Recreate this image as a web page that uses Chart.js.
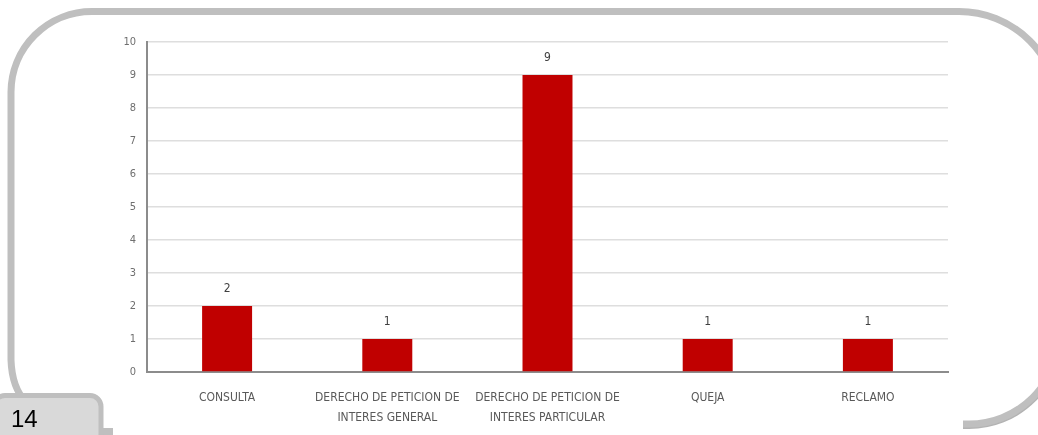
<!DOCTYPE html>
<html>
<head>
<meta charset="utf-8">
<script src="https://cdn.jsdelivr.net/npm/chart.js@4.4.1/dist/chart.umd.min.js"></script>
<style>
  html, body { margin: 0; padding: 0; background: #ffffff; }
  #wrap { position: relative; width: 1038px; height: 435px; overflow: hidden; background: #fff; }
  #c { position: absolute; left: 0; top: 0; }
  #frame { position: absolute; left: 0; top: 0; pointer-events: none; }
  #pg { position: absolute; left: 11px; top: 404px; font-family: "Liberation Sans", Arial, sans-serif; font-size: 24px; color: #000; line-height: 30px; }
</style>
</head>
<body>
<div id="wrap">
  <canvas id="c" width="1038" height="435"></canvas>
  <svg id="frame" width="1038" height="435" viewBox="0 0 1038 435">
    <path d="M 1061 334 A 92 92 0 0 1 969 427 L 963 427" fill="none" stroke="#a0a0a0" stroke-width="4" opacity="0.8"/>
    <path d="M 26 402 Q 12 388 11 360 L 11 92 A 81 81 0 0 1 92 11.5 L 959 11.5 A 100 100 0 0 1 1059 111.5 L 1059 334 A 90 90 0 0 1 969 424 L 963 424"
          fill="none" stroke="#bfbfbf" stroke-width="7"/>
    <rect x="95" y="428" width="18" height="8" fill="#bfbfbf"/>
    <rect x="-6" y="395.5" width="107" height="50" rx="11" ry="11" fill="#d9d9d9" stroke="#bfbfbf" stroke-width="5"/>
  </svg>
  <div id="pg">14</div>
</div>
<script>
const categories = [
  "CONSULTA",
  ["DERECHO DE PETICION DE", "INTERES GENERAL"],
  ["DERECHO DE PETICION DE", "INTERES PARTICULAR"],
  "QUEJA",
  "RECLAMO"
];
const values = [2, 1, 9, 1, 1];
const yTicks = [0, 1, 2, 3, 4, 5, 6, 7, 8, 9, 10];

const labelFont = '"Liberation Sans Narrow", "DejaVu Sans Condensed", Arial, sans-serif';

const valueLabels = {
  id: 'valueLabels',
  afterDatasetsDraw(chart) {
    const ctx = chart.ctx;
    const meta = chart.getDatasetMeta(0);
    ctx.save();
    ctx.font = '12px ' + labelFont;
    ctx.fillStyle = '#404040';
    ctx.textAlign = 'center';
    ctx.textBaseline = 'middle';
    meta.data.forEach((bar, i) => {
      ctx.fillText(String(values[i]), bar.x, bar.y - 17);
    });
    ctx.restore();
  }
};

new Chart(document.getElementById('c'), {
  type: 'bar',
  data: {
    labels: categories,
    datasets: [{
      data: values,
      backgroundColor: '#c00000',
      borderWidth: 0,
      barPercentage: 0.312,
      categoryPercentage: 1.0
    }]
  },
  options: {
    responsive: false,
    animation: false,
    devicePixelRatio: 1,
    layout: { padding: { left: 0, right: 90, top: 42, bottom: 0 } },
    plugins: { legend: { display: false }, tooltip: { enabled: false } },
    scales: {
      x: {
        afterFit(s) { s.height = 63; },
        grid: { display: false, drawTicks: false },
        border: { display: true, color: '#8c8c8c', width: 2 },
        ticks: {
          color: '#595959',
          padding: 16,
          maxRotation: 0,
          autoSkip: false,
          font: { family: labelFont, size: 12, lineHeight: 1.67 }
        }
      },
      y: {
        min: 0,
        max: 10,
        afterFit(s) { s.width = 147; },
        afterBuildTicks(s) { s.ticks = yTicks.map(v => ({ value: v })); },
        grid: { color: '#dedede', lineWidth: 1.5, drawTicks: false },
        border: { display: true, color: '#8c8c8c', width: 2 },
        ticks: {
          color: '#6f6f6f',
          padding: 11,
          font: { family: labelFont, size: 11 }
        }
      }
    }
  },
  plugins: [valueLabels]
});
</script>
</body>
</html>
